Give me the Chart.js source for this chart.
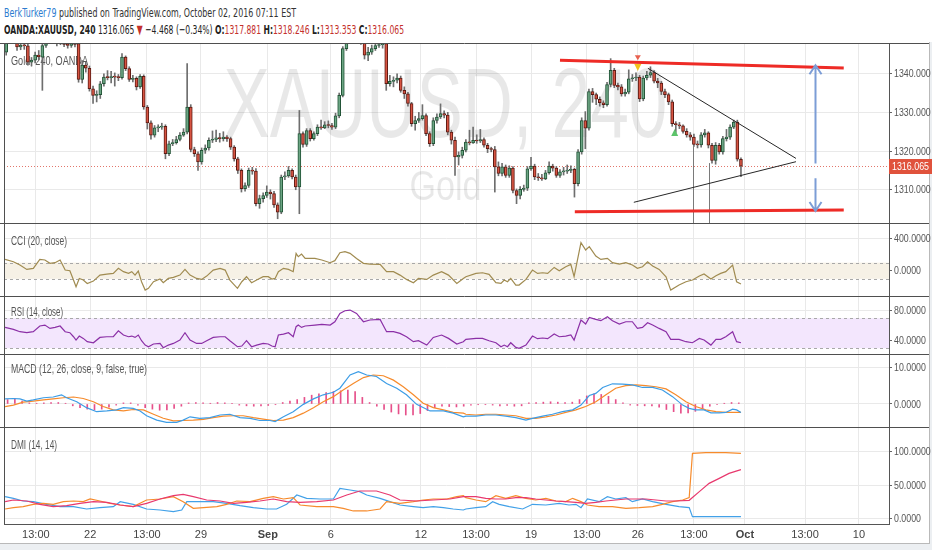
<!DOCTYPE html>
<html>
<head>
<meta charset="utf-8">
<script src="https://cdn.jsdelivr.net/npm/chart.js@4.4.1/dist/chart.umd.min.js"></script>
<style>
  body { margin: 0; width: 932px; height: 550px; background: #eceff2; overflow: hidden; position: relative; }
  #head { position: absolute; left: 0; top: 0; width: 932px; height: 42px; background: #fff; }
  .line { position: absolute; left: 4px; white-space: nowrap; transform-origin: 0 0; font-family: 'Liberation Sans Narrow', 'Arial Narrow', 'DejaVu Sans Condensed', sans-serif; font-size: 13px; line-height: 16px; color: #333; }
  .red { color: #c4302b; }
  #frame { position: absolute; left: 0; top: 42px; width: 929px; height: 501px; background: #fff; border-right: 1px solid #b9b9b9; border-bottom: 1px solid #b9b9b9; }
  canvas { position: absolute; left: 0; }
</style>
</head>
<body>
<div id="head">
  <div class="line" id="l1" style="top:5px"><span style="color:#2d7ccf">BerkTurker79</span> published on TradingView.com, October 02, 2016 07:11 EST</div>
  <div class="line" id="l2" style="top:22px;color:#222"><b>OANDA:XAUUSD, 240</b> 1316.065 <span class="red">&#9660;</span> &minus;4.468 (&minus;0.34%) <b>O:</b><span class="red">1317.881</span> <b>H:</b><span class="red">1318.246</span> <b>L:</b><span class="red">1313.353</span> <b>C:</b><span class="red">1316.065</span></div>
</div>
<div id="frame"></div>
<canvas id="cMain" width="932" height="180" style="top:43px"></canvas>
<canvas id="cCci" width="932" height="73" style="top:223px"></canvas>
<canvas id="cRsi" width="932" height="58" style="top:296px"></canvas>
<canvas id="cMacd" width="932" height="73" style="top:354px"></canvas>
<canvas id="cDmi" width="932" height="116" style="top:427px"></canvas>
<script>
// ---- price, 4h candles (first one at bar 0) ----
const opens = [
  1345.6,1348.5,1349.6,1348.6,1346.9,1347.4,1347.2,1343.0,1343.5,1344.8,
  1344.3,1347.3,1349.2,1350.4,1349.8,1348.6,1349.2,1347.6,1347.3,1347.9,
  1347.8,1338.5,1342.2,1341.4,1336.1,1334.4,1334.6,1337.4,1339.1,1339.0,
  1339.2,1339.1,1339.0,1344.3,1341.3,1338.5,1338.8,1336.6,1339.3,1331.4,
  1327.3,1324.1,1326.0,1326.2,1326.4,1319.3,1321.9,1322.2,1323.0,1324.1,
  1324.9,1331.4,1320.4,1319.3,1317.2,1320.2,1320.8,1322.8,1323.0,1323.4,
  1323.2,1323.6,1323.2,1321.0,1318.0,1315.0,1310.3,1311.1,1315.0,1314.8,
  1306.4,1307.7,1308.5,1309.4,1309.0,1306.1,1304.2,1313.3,1313.6,1315.0,
  1313.3,1310.7,1324.5,1321.7,1325.3,1323.2,1324.5,1326.2,1326.0,1326.8,
  1326.6,1326.2,1329.1,1334.4,1346.5,1348.6,1350.2,1351.0,1350.4,1348.0,
  1344.8,1345.6,1346.5,1347.3,1347.5,1347.8,1337.4,1338.0,1338.3,1338.9,
  1335.7,1334.8,1332.3,1327.1,1327.9,1328.4,1329.2,1324.5,1321.9,1327.9,
  1328.8,1329.7,1329.3,1324.9,1322.8,1318.5,1318.9,1320.2,1322.3,1322.1,
  1322.8,1322.6,1323.0,1321.5,1320.6,1320.4,1315.9,1314.2,1315.9,1313.7,
  1315.6,1309.8,1308.5,1310.1,1310.4,1315.4,1316.1,1313.3,1313.1,1312.8,
  1314.4,1316.1,1315.6,1313.7,1314.6,1314.8,1315.0,1315.3,1311.6,1319.8,
  1327.9,1325.9,1335.4,1334.6,1333.4,1332.5,1332.0,1337.2,1340.9,1337.0,
  1336.6,1334.8,1335.2,1338.7,1338.9,1339.1,1333.5,1338.9,1339.6,1340.3,
  1338.1,1337.6,1335.4,1334.6,1332.7,1327.1,1326.8,1326.5,1325.1,1324.2,
  1323.6,1321.7,1321.6,1324.2,1324.7,1321.5,1317.6,1321.5,1319.8,1323.2,
  1323.6,1326.2,1327.5,1317.881
];
const highs = [
  1349.5,1351,1350.5,1349,1348.5,1348.4,1347.8,1344.2,1345.6,1346,
  1349,1350.5,1351.6,1351.5,1350.6,1350,1349.8,1348.4,1349,1349,
  1348.4,1343.4,1343,1342,1336.8,1335.6,1338,1340,1340.8,1340.6,
  1340.2,1339.8,1345.2,1344.6,1341.8,1339.6,1339.2,1339.8,1339.7,1331.8,
  1327.8,1326.6,1326.8,1327.2,1326.8,1322.6,1323,1323.8,1324.8,1325.8,
  1342.6,1332,1321,1319.8,1320.8,1321.6,1323.4,1325.2,1325.4,1324.6,
  1325,1324,1323.6,1321.4,1318.4,1315.4,1311.8,1315.6,1315.8,1315.5,
  1308.6,1309.2,1311,1310,1309.6,1306.6,1313.8,1314.6,1316,1315.4,
  1313.8,1330.5,1325,1325.8,1325.8,1325,1326.8,1328,1327.6,1327.8,
  1327.2,1329.8,1335,1347,1349.6,1351.4,1352.4,1352,1351,1348.4,
  1346.8,1347.4,1348,1348.4,1348.6,1348,1339.6,1339.2,1340,1339.4,
  1336.6,1335.2,1332.6,1329,1330,1332,1329.6,1325,1328.6,1329.6,
  1332.2,1330.4,1330,1325.4,1323.6,1319.8,1321,1323,1325.4,1326.2,
  1324.2,1325.6,1323.4,1322,1321,1321.2,1317.2,1316.8,1316.4,1316.2,
  1316,1310.2,1310.8,1311.2,1316,1318.4,1316.6,1314.2,1314,1315,
  1317.2,1316.6,1316,1315.2,1315.8,1316.4,1316.2,1315.6,1320.4,1328.6,
  1330.2,1336,1336.2,1335,1334,1333,1337.8,1343.9,1341.4,1337.6,
  1337.2,1336,1341,1339.8,1340.2,1339.6,1339.4,1340.6,1341.8,1340.8,
  1338.8,1338,1336,1335,1333.2,1327.6,1327.4,1326.8,1325.8,1324.8,
  1324.4,1322.6,1324.8,1325.6,1325,1322,1322.2,1322,1323.8,1325.6,
  1326.8,1328,1328,1318.246
];
const lows = [
  1344.8,1348,1347.8,1346,1346.2,1346.3,1342.2,1342,1342.8,1343.6,
  1335.7,1346.8,1348.5,1348.8,1347.2,1347.5,1347,1346.6,1346.8,1346.9,
  1337.8,1337.6,1340.4,1335.5,1332.3,1332.7,1333.6,1336.8,1338.4,1337.6,
  1336.8,1338.2,1338.6,1340.8,1338,1337.9,1335.8,1336.2,1330.8,1325.7,
  1323.1,1323.6,1325,1325.6,1318.0,1318.8,1321.4,1321.8,1322.6,1323.8,
  1324.4,1319.8,1318.6,1315.0,1316.6,1319.4,1320.2,1322.2,1322.4,1322.3,
  1322.6,1322.5,1320.4,1317.4,1314.2,1309.4,1309.6,1310.6,1314,1305.8,
  1305.2,1306.8,1308,1307.6,1305.4,1302.5,1303.8,1312.6,1313.2,1312.8,
  1310,1303.8,1321,1321.2,1322.6,1322.8,1324,1325.6,1325.8,1326,
  1325.6,1325.8,1328.6,1334,1346,1348,1349.6,1349.5,1347.6,1343.8,
  1343.4,1345,1346,1346.8,1346.6,1335.7,1336.8,1336.6,1337.6,1335.2,
  1333.6,1331.6,1326.4,1325.4,1327.4,1328,1324,1321.2,1321.4,1327.2,
  1328.4,1328.6,1324.2,1321.8,1313.7,1316.4,1318.2,1319.8,1321.6,1322,
  1322,1322.2,1321,1319.6,1319.8,1309.4,1313.6,1313.6,1313.2,1313.2,
  1309.2,1306.4,1307.6,1309.6,1309.8,1315,1312.6,1312.4,1312.4,1312.6,
  1314,1314.8,1313.2,1313.2,1313.8,1314.2,1314.4,1308.1,1311,1319.2,
  1320.6,1325.4,1332.6,1332,1331.6,1331.2,1331.6,1336.6,1336.4,1335.8,
  1334.2,1334.2,1334.8,1338,1338.2,1332.8,1333,1338.4,1339,1337.6,
  1336.4,1334.6,1333.8,1332,1326.4,1324.8,1325.8,1324.6,1323.6,1322.8,
  1321.2,1320.8,1321,1323.6,1320.8,1316.9,1316.6,1319.2,1319.2,1322.6,
  1323,1325.8,1317.4,1313.353
];
const closes = [
  1348.5,1349.6,1348.6,1346.9,1347.4,1347.2,1343.0,1343.5,1344.8,1344.4,
  1347.3,1349.2,1350.4,1349.8,1348.6,1349.2,1347.6,1347.3,1347.9,1347.6,
  1338.5,1342.2,1341.4,1336.1,1334.4,1334.6,1337.4,1339.1,1339.0,1339.2,
  1339.1,1339.0,1344.3,1341.3,1338.5,1338.8,1336.6,1339.3,1331.4,1327.3,
  1324.1,1326.0,1326.2,1326.4,1319.3,1321.9,1322.2,1323.0,1324.1,1324.9,
  1331.4,1320.4,1319.3,1317.2,1320.2,1320.8,1322.8,1323.0,1323.4,1323.2,
  1323.6,1323.2,1321.0,1318.0,1315.0,1310.3,1311.1,1315.0,1314.8,1306.4,
  1307.7,1308.5,1309.4,1309.0,1306.1,1304.2,1313.3,1313.6,1315.0,1313.3,
  1310.7,1324.5,1321.7,1325.3,1323.2,1324.5,1326.2,1326.0,1326.8,1326.6,
  1326.2,1329.1,1334.4,1346.5,1348.6,1350.2,1351.0,1350.4,1348.0,1344.8,
  1345.6,1346.5,1347.3,1347.5,1347.8,1337.4,1338.0,1338.3,1338.9,1335.7,
  1334.8,1332.3,1327.1,1327.9,1328.4,1329.2,1324.5,1321.9,1327.9,1328.8,
  1329.7,1329.3,1324.9,1322.8,1318.5,1318.9,1320.2,1322.3,1322.1,1322.8,
  1322.6,1323.0,1321.5,1320.6,1320.4,1315.9,1314.2,1315.9,1313.7,1315.6,
  1309.8,1308.5,1310.1,1310.4,1315.4,1316.1,1313.3,1313.1,1312.8,1314.4,
  1316.1,1315.6,1313.7,1314.6,1314.8,1315.0,1315.3,1311.6,1319.8,1327.9,
  1325.9,1335.4,1334.6,1333.4,1332.5,1332.0,1337.2,1340.9,1337.0,1336.6,
  1334.8,1335.2,1338.7,1338.9,1339.1,1333.5,1338.9,1339.6,1340.3,1338.1,
  1337.6,1335.4,1334.6,1332.7,1327.1,1326.8,1326.5,1325.1,1324.2,1323.6,
  1321.7,1321.6,1324.2,1324.7,1321.5,1317.6,1321.5,1319.8,1323.2,1323.6,
  1326.2,1327.5,1317.9,1316.065
];
const lastPrice = 1316.065;
const firstBar = 0.6;     // where candle 0 sits on the bar axis
const axisMax = 244.5;    // bars visible across the plot

// ---- time axis ----
const tickPos = [8.8, 23.8, 39.5, 54.4, 72.9, 90.3, 115.2, 130.4, 145.6, 161.0, 175.1, 190.6, 204.7, 221.3, 236.2];
const tickLabels = ['13:00','22','13:00','29','Sep','6','12','13:00','19','13:00','26','13:00','Oct','13:00','10'];
const boldLabels = ['Sep', 'Oct'];

// ---- value axes ----
const priceTicks = [1310, 1320, 1330, 1340];
const cciTicks = [0, 400];
const rsiTicks = [40, 80];
const macdTicks = [0, 10];
const dmiTicks = [0, 50, 100];

// ---- CCI (20) and RSI (14), read at the same bars ----
const oscBars = [
  0.3,2.6,4.4,6.3,8.1,9.9,11.3,12.7,14.1,15.5,16.9,18.2,19.2,19.9,20.8,21.9,23.0,24.7,26.5,28.4,
  30.2,31.6,33.0,34.4,35.3,36.2,37.1,38.0,39.0,39.9,41.3,43.1,44.0,45.4,46.8,48.6,50.0,51.4,53.2,54.6,
  56.0,57.8,59.7,61.1,62.4,64.5,65.7,67.0,68.4,69.8,71.6,73.0,74.0,74.9,75.8,77.2,78.6,79.9,80.7,81.3,
  82.2,83.2,85.9,87.8,90.1,91.4,92.8,94.2,95.6,97.4,99.3,101.1,103.9,105.7,107.6,109.4,111.2,113.1,114.5,116.8,
  118.6,120.9,122.8,125.1,126.9,
  127.6,130.4,132.2,134.0,135.9,137.3,138.2,139.1,140.0,141.4,142.3,144.2,146.0,147.4,148.8,150.2,152.0,153.4,155.2,156.6,
  157.5,159.4,160.7,161.7,163.5,164.9,166.7,168.1,170.0,171.8,173.6,175.0,176.4,177.8,179.2,181.0,182.9,184.2,186.5,188.4,
  190.2,192.1,193.4,195.3,196.7,198.0,199.4,201.3,202.4,203.6
];
const cciVals = [
  140,111,70,16,29,140,132,91,99,132,8,0,-115,-198,-95,-115,-157,-128,-54,-41,
  -33,29,-12,-33,-12,-54,-4,-136,-239,-218,-136,-103,-148,-95,-82,-54,16,-54,-95,-107,
  -66,8,29,8,-115,-218,-136,-74,-148,-115,-74,-74,-103,-95,-12,29,16,-12,214,173,
  206,152,152,132,99,124,222,235,214,152,91,82,78,-12,-12,-54,-107,-148,-95,-107,
  -54,-12,-54,-157,-95,
  -74,-33,-25,-45,-148,-157,-115,-136,-95,-177,-177,-107,8,-33,-25,-33,41,0,49,78,
  -74,346,255,297,181,140,152,99,82,99,70,29,49,111,58,16,-74,-239,-177,-136,
  -115,-66,-41,-103,-62,-33,-12,70,-136,-165
];
const rsiVals = [
  57.8,55.1,52,50.7,52,59.6,60.9,56.4,57.8,59.6,52,50.7,45.3,40.9,46.2,43.1,38.7,37.3,44.4,45.3,
  45.3,53.3,47.6,45.3,46.2,44.4,47.6,40,34.2,32,35.6,36.4,30.7,34.2,36.4,40.9,50.7,40.9,36.4,36.4,
  40,44.4,45.3,45.3,40,32,32.9,40,32,34.2,36.4,35.6,32.9,32,47.6,48.9,50.7,45.3,58.7,60.9,
  57.8,59.6,60.9,61.8,60.9,65.3,76.4,80,80.9,76.4,65.3,67.6,68.4,52,52,49.8,45.3,38.7,40,34.2,
  44.4,47.6,43.1,35.6,38.7,
  41.8,43.1,43.1,40,37.3,32,34.2,32,37.3,31.1,29.8,34.2,46.2,42.7,43.6,42.7,48.9,45.3,46.2,47.6,
  40.9,67.6,62.2,71.1,68.4,66.7,72,66.7,62.2,65.3,65.3,56.4,57.8,64,60.9,56.4,52,41.8,41.8,38.7,
  37.3,43.1,40.9,34.2,41.8,41.8,45.3,52,38.7,37.3
];

// ---- MACD (12, 26, 9) ----
const macdBars = [
  0.3,2.6,4.4,6.3,8.1,10.9,13.6,15.9,17.3,20.1,22.8,25.6,28.4,31.1,33.0,35.7,37.6,39.4,42.2,44.9,
  47.7,49.5,51.4,54.1,56.9,59.7,62.4,65.2,68.0,70.7,73.5,74.9,77.2,79.9,82.7,85.5,88.2,91.0,92.8,95.6,
  97.9,100.2,102.9,105.7,108.5,111.2,114.0,117.7,121.4,124.1,126.9,
  127.6,130.4,133.1,135.9,138.6,141.4,144.2,146.0,148.8,151.5,154.3,157.1,159.4,161.7,163.5,165.4,168.1,170.9,173.6,176.4,
  179.2,181.9,184.7,187.5,189.3,191.1,193.4,195.3,197.6,199.4,201.3,202.4,203.6
];
const macdVals = [
  1.4,1.5,1.4,0.8,1.1,1.7,1.9,2.5,1.7,0.6,-1.0,-2.1,-1.9,-1.6,-1.0,-1.2,-1.9,-3.2,-4.4,-5.0,
  -5.0,-4.4,-3.5,-3.9,-3.7,-3.0,-2.8,-3.7,-3.9,-4.5,-4.5,-4.8,-3.5,-2.1,-0.1,1.4,2.5,3.2,4.3,7.9,
  8.8,7.9,7.5,5.6,4.3,2.5,-0.1,-1.9,-1.9,-2.5,-3.5,
  -3.3,-3.3,-3.0,-3.0,-3.3,-3.7,-4.4,-3.9,-3.3,-2.8,-2.1,-1.6,-0.3,2.3,2.9,4.5,5.5,5.4,5.2,4.5,
  4.5,3.8,2.0,-0.3,-1.2,-1.6,-1.6,-2.4,-2.4,-2.3,-1.4,-1.6,-2.3
];
const signalBars = [
  0.3,2.6,5.3,8.1,10.9,13.6,16.4,19.2,21.9,24.7,27.4,30.2,33.0,35.7,38.5,41.3,44.0,46.8,49.5,52.3,
  55.1,57.8,60.6,63.4,66.1,68.9,71.6,74.4,77.2,79.9,82.7,85.5,88.2,91.0,93.7,96.5,99.3,102.0,104.8,107.6,
  110.3,113.1,115.8,118.6,121.4,124.1,126.9,
  127.6,130.4,133.1,135.9,138.6,141.4,144.2,146.9,149.7,152.5,155.2,158.0,160.7,163.5,166.3,169.0,171.8,174.6,177.3,180.1,
  182.9,185.6,188.4,191.1,193.9,196.7,199.4,202.2,203.6
];
const signalVals = [
  -0.7,-0.3,0.5,0.8,1.1,1.4,1.7,1.9,1.5,0.6,-0.7,-1.6,-1.9,-1.5,-1.6,-2.8,-3.9,-4.6,-4.5,-4.4,
  -4.2,-3.7,-3.3,-3.2,-3.2,-3.7,-4.1,-4.5,-4.4,-3.7,-2.5,-1.0,0.6,2.0,3.8,5.6,7.2,7.9,7.7,6.5,
  4.7,2.5,0.2,-1.0,-1.6,-2.3,-2.5,
  -2.8,-3.0,-2.8,-2.8,-3.0,-3.2,-3.9,-3.9,-3.5,-3.0,-2.3,-1.6,-0.7,0.6,2.5,4.3,5.0,5.2,5.0,4.7,
  4.1,2.5,0.6,-0.7,-1.6,-2.1,-2.3,-2.3,-2.3
];
const histFirst = 1, histStep = 2;   // histogram read every other bar
const histVals = [
  1.2,1.5,0.8,0.3,0.2,0.3,0.4,0.4,0.2,-0.5,-1.0,-1.4,-1.6,-1.4,-0.9,-0.3,0.3,0.3,-0.3,-1.0,
  -1.4,-1.7,-1.6,-1.2,-0.6,0.3,0.4,0.3,0.2,0.4,0.3,0.2,-0.3,-0.5,-0.6,-0.5,-0.4,-0.2,0.4,0.8,
  1.2,1.8,2.4,2.8,3.1,3.4,3.6,3.8,3.4,1.8,0.4,-0.6,-1.5,-2.2,-2.7,-3.0,-3.0,-2.6,-1.8,-1.0,
  -0.6,-0.7,-0.8,-0.6,-0.3,-0.2,-0.2,-0.3,-0.5,-0.4,-0.6,-0.5,0.3,0.4,0.5,0.6,0.5,0.4,0.5,1.2,
  2.2,2.8,2.6,2.1,1.2,0.3,-0.3,-0.4,-0.5,-0.5,-0.9,-1.5,-2.1,-2.5,-2.4,-2.0,-1.3,-0.6,-0.2,0.2,
  0.4,0.3
];

// ---- DMI (14, 14) ----
const plusDiBars = [
  0.3,2.6,5.3,8.1,11.8,15.5,19.2,22.8,26.5,30.2,32.1,35.7,39.4,43.1,46.8,49.1,50.5,54.1,57.8,61.5,
  65.2,68.9,72.6,75.3,78.1,80.9,83.6,87.3,91.0,92.8,95.6,98.3,100.2,103.9,106.6,109.4,113.1,115.8,118.6,121.4,
  124.1,126.9,
  127.6,130.4,133.1,135.0,136.8,139.6,143.3,146.0,149.7,153.4,156.1,158.0,159.4,161.2,164.4,166.7,169.0,171.8,173.6,176.4,
  179.2,182.9,186.5,189.3,190.2,193.9,199.4,203.6
];
const plusDiVals = [
  32.5,30,26,25,21,17.5,17.5,14,16,17.5,25,21,14,12.5,10,12.5,25,25,25,22.5,
  19,16,14,14,21,35,30,29,29,45,42.5,40,35,30,25,20,17.5,16,17.5,16,
  14,12.5,
  14,16,17.5,25,21,17.5,14,21,20,22.5,20,21,16,29,25,32.5,29,31,25,29,
  25,21,17.5,16,2.5,2.5,2.5,2.5
];
const minusDiBars = [
  0.3,2.6,5.3,8.1,10.9,13.6,16.4,19.2,21.9,23.8,26.5,29.3,32.1,35.7,39.4,43.1,46.8,49.5,52.3,55.1,
  58.8,61.5,64.3,68.0,71.6,74.4,77.2,79.9,81.8,86.4,91.0,93.7,96.5,100.2,103.9,105.7,109.4,113.1,115.8,118.6,
  122.3,125.1,126.9,
  127.6,130.4,133.1,135.9,138.6,141.4,144.2,146.9,149.7,152.5,155.2,157.1,159.4,161.2,164.4,168.1,171.8,175.5,179.2,181.9,
  184.7,187.5,189.3,190.2,193.9,199.4,203.6
];
const minusDiVals = [
  14,16,17.5,21,22.5,21,25,26,25,29,26,22.5,20,17.5,27.5,29,32.5,25,15,16,
  17.5,21,26,25,30,32.5,29,31,20,17.5,17.5,15,11,11,14,25,22.5,25,27.5,29,
  29,32.5,34,
  31,27.5,25,34,30,34,30,27.5,30,26,25,30,25,20,17.5,17.5,15,16,17.5,21,
  25,27.5,31,97.5,98.5,98.5,97.5
];
const adxBars = [
  0.3,2.6,6.3,9.9,13.6,17.3,21.0,24.7,28.4,32.1,35.7,39.4,43.1,46.8,49.5,52.3,56.0,59.7,63.4,67.0,
  70.7,74.4,78.1,81.8,86.4,91.0,94.7,98.3,102.9,106.6,109.4,114.0,118.6,123.2,126.9,
  127.6,130.4,133.1,135.9,138.6,141.4,144.2,146.9,149.7,152.5,155.2,158.0,160.7,163.5,166.3,169.0,171.8,174.6,177.3,180.1,
  182.9,185.6,189.3,192.1,194.8,197.6,200.3,203.6
];
const adxVals = [
  25,27.5,26,21,17.5,19,22.5,25,24,20,17.5,22.5,29,34,36,32.5,27.5,26,22.5,24,
  26,29,25,24,25,27.5,35,41,41,35,27.5,26,27.5,29,32.5,
  32.5,32.5,30,29,29,31,31,29,27.5,26,25,24,22.5,24,26,27.5,29,29,29,27.5,
  26,26,27,40,52.5,60,67.5,73
];

// ---- drawings on the price pane, in bar / price units ----
const trendLines = [            // x1, price1, x2, price2
  [153.6, 1343.5, 232.0, 1341.5],
  [157.7, 1304.3, 232.0, 1304.75],
  [177.9, 1341.4, 218.8, 1318.1],
  [174.0, 1306.75, 218.8, 1317.25]
];
const rangeArrow = { bar: 224.0, top: 1342.2, bottom: 1304.5, gapTop: 1316.8, gapBottom: 1313.0 };
const dropLines = [[190.3, 1321.5], [194.7, 1316.9]];
const markDown = [175.1, 1341.6];
const markDownSmall = [175.1, 1344.1];
const markUp = [185.3, 1324.8];

const NARROW = "'Liberation Sans Narrow', 'Arial Narrow', 'Liberation Sans', sans-serif";
const GRID = '#e9e9e9';
const UP_FILL = '#6ba583', UP_LINE = '#225437', DN_FILL = '#d75442', DN_LINE = '#5b1a13';

const pts = (xs, ys) => xs.map((x, i) => ({ x: x, y: ys[i] }));
const lineDs = (data, color, order) => ({ type: 'line', data: data, borderColor: color, borderWidth: 1.2, pointRadius: 0, tension: 0, fill: false, order: order || 0 });

function baseOptions(yMin, yMax, yTicks, showX) {
  return {
    responsive: false, animation: false, events: [],
    layout: { padding: { left: 4, right: 0, top: 0, bottom: 0 } },
    plugins: { legend: { display: false }, tooltip: { enabled: false } },
    scales: {
      x: {
        type: 'linear', min: 0, max: axisMax, offset: false,
        afterBuildTicks: s => { s.ticks = tickPos.map(v => ({ value: v })); },
        afterFit: s => { s.height = showX ? 19 : 0; s.paddingLeft = 0; s.paddingRight = 0; },
        grid: { color: GRID, drawTicks: false, offset: false },
        border: { display: showX, color: '#555' },
        ticks: {
          display: showX, autoSkip: false, maxRotation: 0, padding: 4, color: '#444',
          callback: (v, i) => tickLabels[i],
          font: c => ({ family: NARROW, size: 11, weight: boldLabels.includes(tickLabels[c.index]) ? 'bold' : 'normal' })
        }
      },
      y: {
        position: 'right', min: yMin, max: yMax,
        afterBuildTicks: s => { s.ticks = yTicks.map(v => ({ value: v })); },
        afterFit: s => { s.width = 43; s.paddingTop = 0; s.paddingBottom = 0; },
        grid: { color: GRID, tickLength: 3, tickColor: '#666' },
        border: { color: '#555' },
        ticks: { display: false }
      }
    }
  };
}

function fitText(ctx, text, cx, baseY, w, font, align) {
  ctx.save();
  ctx.font = font;
  const m = ctx.measureText(text).width;
  ctx.translate(cx, baseY);
  ctx.scale(w / m, 1);
  ctx.textAlign = align || 'center';
  ctx.fillText(text, 0, 0);
  ctx.restore();
}

// pane separators, left edge, pane title and the squeezed price-scale labels
function framePlugin(decimals, title, titleY, titleW) {
  return {
    id: 'frame',
    afterDraw(chart) {
      const { ctx, chartArea: a, scales: { y } } = chart;
      ctx.save();
      ctx.strokeStyle = '#4f4f4f';
      ctx.lineWidth = 1;
      ctx.beginPath();
      ctx.moveTo(0, a.top + 0.5); ctx.lineTo(929, a.top + 0.5);
      ctx.moveTo(a.left + 0.5, a.top); ctx.lineTo(a.left + 0.5, a.bottom);
      ctx.stroke();
      ctx.fillStyle = '#555';
      ctx.textBaseline = 'middle';
      ctx.font = '11px ' + NARROW;
      y.ticks.forEach(t => {
        ctx.save();
        ctx.translate(a.right + 5, y.getPixelForValue(t.value) + 0.5);
        ctx.scale(0.8, 1);
        ctx.textAlign = 'left';
        ctx.fillText(t.value.toFixed(decimals), 0, 0);
        ctx.restore();
      });
      if (title) {
        fitText(ctx, title, a.left + 7, a.top + titleY, titleW, '12px ' + NARROW, 'left');
      }
      ctx.restore();
    }
  };
}

function bandPlugin(lo, hi, fill) {
  return {
    id: 'band',
    beforeDatasetsDraw(chart) {
      const { ctx, chartArea: a, scales: { y } } = chart;
      const y1 = y.getPixelForValue(hi), y2 = y.getPixelForValue(lo);
      ctx.save();
      ctx.fillStyle = fill;
      ctx.fillRect(a.left, y1, a.right - a.left, y2 - y1);
      ctx.strokeStyle = '#a8a8a8';
      ctx.setLineDash([3, 3]);
      ctx.lineWidth = 1;
      [y1, y2].forEach(v => {
        ctx.beginPath();
        ctx.moveTo(a.left, Math.round(v) + 0.5);
        ctx.lineTo(a.right, Math.round(v) + 0.5);
        ctx.stroke();
      });
      ctx.restore();
    }
  };
}

const watermarkPlugin = {
  id: 'watermark',
  beforeDatasetsDraw(chart) {
    const { ctx, chartArea: a, scales: { y } } = chart;
    const cx = (a.left + a.right) / 2 - 1;
    ctx.save();
    ctx.beginPath(); ctx.rect(a.left, a.top, a.right - a.left, a.bottom - a.top); ctx.clip();
    ctx.fillStyle = 'rgba(0,0,0,0.09)';
    fitText(ctx, 'XAUUSD, 240', cx, a.top + 94, 444, '98px ' + NARROW);
    fitText(ctx, 'Gold', cx, a.top + 157, 72, '42px ' + NARROW);
    ctx.fillStyle = '#555';
    ctx.textBaseline = 'middle';
    fitText(ctx, 'Gold, 240, OANDA', a.left + 7, a.top + 19, 77, '12px ' + NARROW, 'left');
    // last price dotted line
    const py = Math.round(y.getPixelForValue(lastPrice)) + 0.5;
    ctx.strokeStyle = '#e2766b';
    ctx.setLineDash([1, 2]);
    ctx.lineWidth = 1;
    ctx.beginPath(); ctx.moveTo(a.left, py); ctx.lineTo(a.right, py); ctx.stroke();
    ctx.restore();
  }
};

function tri(ctx, x, y, w, h, down, color) {
  ctx.fillStyle = color;
  ctx.beginPath();
  if (down) { ctx.moveTo(x - w / 2, y - h / 2); ctx.lineTo(x + w / 2, y - h / 2); ctx.lineTo(x, y + h / 2); }
  else { ctx.moveTo(x - w / 2, y + h / 2); ctx.lineTo(x + w / 2, y + h / 2); ctx.lineTo(x, y - h / 2); }
  ctx.closePath();
  ctx.fill();
}

const drawingsPlugin = {
  id: 'drawings',
  afterDatasetsDraw(chart) {
    const { ctx, chartArea: a, scales: { x, y } } = chart;
    ctx.save();
    ctx.beginPath(); ctx.rect(a.left, a.top, a.right - a.left, a.bottom - a.top); ctx.clip();
    // drop lines to the pane bottom
    ctx.strokeStyle = '#7a7a7a'; ctx.lineWidth = 1;
    dropLines.forEach(d => {
      const px = Math.round(x.getPixelForValue(d[0])) + 0.5;
      ctx.beginPath(); ctx.moveTo(px, y.getPixelForValue(d[1])); ctx.lineTo(px, a.bottom); ctx.stroke();
    });
    // channel and triangle
    trendLines.forEach((t, i) => {
      ctx.strokeStyle = i < 2 ? '#ee2b26' : '#262626';
      ctx.lineWidth = i < 2 ? 3 : 1;
      ctx.beginPath();
      ctx.moveTo(x.getPixelForValue(t[0]), y.getPixelForValue(t[1]));
      ctx.lineTo(x.getPixelForValue(t[2]), y.getPixelForValue(t[3]));
      ctx.stroke();
    });
    // range arrow
    const ax = Math.round(x.getPixelForValue(rangeArrow.bar)) + 0.5;
    const yt = y.getPixelForValue(rangeArrow.top), yb = y.getPixelForValue(rangeArrow.bottom);
    ctx.strokeStyle = '#7c9dd6'; ctx.lineWidth = 2;
    ctx.beginPath();
    ctx.moveTo(ax, yt); ctx.lineTo(ax, y.getPixelForValue(rangeArrow.gapTop));
    ctx.moveTo(ax, y.getPixelForValue(rangeArrow.gapBottom)); ctx.lineTo(ax, yb);
    ctx.moveTo(ax - 6, yt + 9); ctx.lineTo(ax, yt); ctx.lineTo(ax + 6, yt + 9);
    ctx.moveTo(ax - 6, yb - 9); ctx.lineTo(ax, yb); ctx.lineTo(ax + 6, yb - 9);
    ctx.stroke();
    // markers
    tri(ctx, x.getPixelForValue(markDownSmall[0]), y.getPixelForValue(markDownSmall[1]), 6, 5, true, '#e8604f');
    tri(ctx, x.getPixelForValue(markDown[0]), y.getPixelForValue(markDown[1]), 7, 7, true, '#f2c21b');
    tri(ctx, x.getPixelForValue(markUp[0]), y.getPixelForValue(markUp[1]), 7, 7, false, '#5cc46a');
    ctx.restore();
  },
  afterDraw(chart) {
    const { ctx, chartArea: a, scales: { y }, width } = chart;
    const py = Math.round(y.getPixelForValue(lastPrice));
    ctx.save();
    ctx.fillStyle = '#e0523c';
    ctx.fillRect(a.right, py - 7, width - a.right, 15);
    ctx.fillStyle = '#fff';
    ctx.textBaseline = 'middle';
    fitText(ctx, lastPrice.toFixed(3), a.right + 3, py + 1, 37, '11px ' + NARROW, 'left');
    ctx.restore();
  }
};

const up = opens.map((o, i) => closes[i] >= o);

new Chart(document.getElementById('cMain'), {
  type: 'bar',
  data: {
    datasets: [
      {
        data: opens.map((o, i) => ({ x: firstBar + i, y: [o, closes[i]] })),
        backgroundColor: up.map(u => u ? UP_FILL : DN_FILL),
        borderColor: up.map(u => u ? UP_LINE : DN_LINE),
        borderWidth: 1, borderSkipped: false, barThickness: 3, minBarLength: 1, grouped: false, order: 0
      },
      {
        data: lows.map((l, i) => ({ x: firstBar + i, y: [l, highs[i]] })),
        backgroundColor: '#6e6e6e', barThickness: 1, grouped: false, order: 1
      }
    ]
  },
  options: baseOptions(1301.4, 1347.94, priceTicks, false),
  plugins: [watermarkPlugin, framePlugin(3), drawingsPlugin]
});

new Chart(document.getElementById('cCci'), {
  type: 'line',
  data: { datasets: [lineDs(pts(oscBars, cciVals), '#a08b50')] },
  options: baseOptions(-312, 589, cciTicks, false),
  plugins: [bandPlugin(-100, 100, '#f6f1e6'), framePlugin(4, 'CCI (20, close)', 19, 56)]
});

new Chart(document.getElementById('cRsi'), {
  type: 'line',
  data: { datasets: [lineDs(pts(oscBars, rsiVals), '#8b2fa6')] },
  options: baseOptions(22.3, 99.6, rsiTicks, false),
  plugins: [bandPlugin(30, 70, '#f3e6fd'), framePlugin(4, 'RSI (14, close)', 17, 52)]
});

new Chart(document.getElementById('cMacd'), {
  type: 'bar',
  data: {
    datasets: [
      {
        type: 'bar',
        data: histVals.map((v, i) => ({ x: histFirst + i * histStep, y: v })),
        backgroundColor: '#e6508a', barThickness: 1, grouped: false, order: 2
      },
      lineDs(pts(signalBars, signalVals), '#f68b2c', 1),
      lineDs(pts(macdBars, macdVals), '#3d9de6', 0)
    ]
  },
  options: baseOptions(-6.27, 13.62, macdTicks, false),
  plugins: [framePlugin(4, 'MACD (12, 26, close, 9, false, true)', 16, 136)]
});

new Chart(document.getElementById('cDmi'), {
  type: 'line',
  data: {
    datasets: [
      lineDs(pts(plusDiBars, plusDiVals), '#42a1e8', 2),
      lineDs(pts(minusDiBars, minusDiVals), '#f68b2c', 1),
      lineDs(pts(adxBars, adxVals), '#e8396e', 0)
    ]
  },
  options: baseOptions(-8.56, 137.1, dmiTicks, true),
  plugins: [framePlugin(4, 'DMI (14, 14)', 19, 46)]
});

function fitLine(id, target) {
  const el = document.getElementById(id);
  const w = el.getBoundingClientRect().width;
  el.style.transform = 'scaleX(' + (target / w) + ')';
}
fitLine('l1', 292);
fitLine('l2', 400);
</script>
</body>
</html>
